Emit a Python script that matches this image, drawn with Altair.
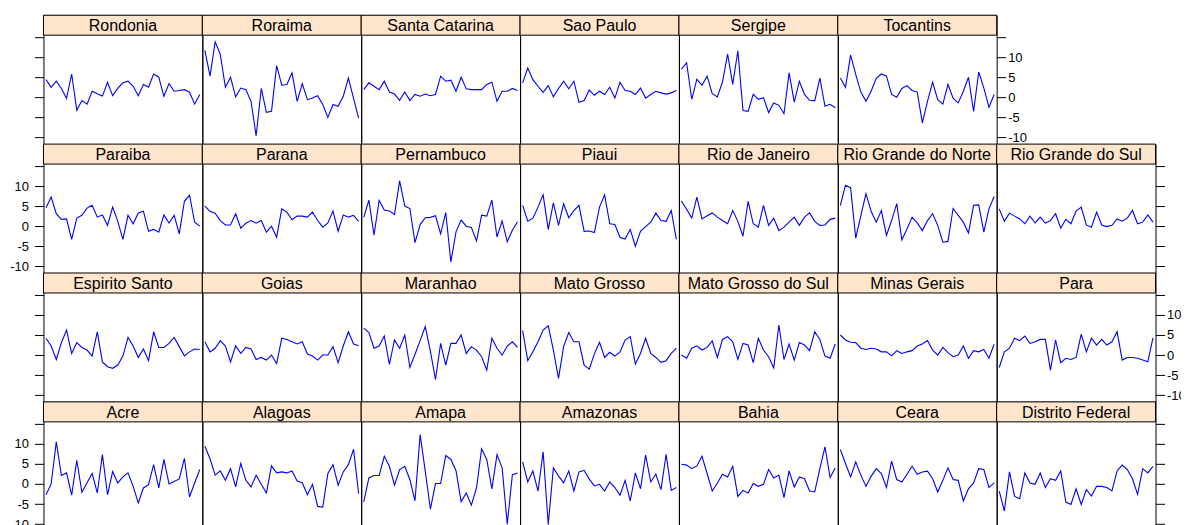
import altair as alt
import pandas as pd

# ---------------- data (31 observations per state) ----------------
N_OBS = 31
obs = list(range(N_OBS))

rondonia = [4.4, 2.5, 4.0, 2.2, -0.3, 5.8, -3.25, -0.8, -1.7, 1.5, 0.9, 0.3, 3.75, 0.4, 2.2, 3.6, 4.0, 2.75, 0.4, 3.2, 2.5, 5.8, 5.0, 0.25, 3.4, 1.5, 1.7, 1.9, 1.25, -1.7, 0.7]
roraima = [11.7, 5.25, 13.8, 10.7, 2.5, 5.0, 0.1, 2.3, 1.9, -1.0, -9.6, 2.2, -3.75, -3.5, 7.9, 3.0, 3.2, 6.1, -1.0, 3.4, -0.6, -0.2, 0.4, -1.8, -5.0, -1.8, -2.25, 0.25, 4.8, -0.2, -5.2]
santa_catarina = [1.9, 3.6, 2.75, 1.9, 4.0, 1.3, 0.8, -0.75, 1.3, -0.8, 0.7, 0.25, 0.8, 0.4, 0.7, 5.25, 4.0, 4.25, 1.5, 5.0, 2.1, 1.9, 1.9, 1.9, 3.2, 3.75, -1.0, 1.5, 1.5, 2.2, 1.7]
sao_paulo = [3.6, 7.3, 4.4, 2.75, 1.25, 2.9, 0.1, 2.2, 4.0, 2.1, 4.0, -1.25, -0.8, 1.8, 0.5, 1.5, 0.7, 2.5, -0.2, 3.75, 1.7, 1.5, 0.7, 2.3, -0.2, 0.7, 1.5, 1.1, 0.8, 1.1, 1.7]
sergipe = [7.0, 8.6, -0.5, 4.5, 3.0, 5.25, 0.9, 0.1, 3.8, 10.75, 3.2, 11.6, -3.3, -3.5, 0.75, -0.5, -0.1, -3.8, -1.4, -2.0, -4.1, 6.1, -1.2, 4.0, 0.7, -0.75, -0.9, 4.8, -2.25, -1.75, -2.6]
tocantins = [4.8, 2.5, 10.5, 5.7, 1.3, -1.0, 1.5, 4.7, 5.8, 5.25, 0.7, 0.0, 2.2, 2.9, 1.7, 1.3, -6.4, -1.0, 3.75, -0.6, -1.7, 3.2, -0.2, -1.4, 1.5, 5.0, -3.5, 6.3, 2.3, -2.5, 0.7]

paraiba = [4.6, 7.25, 3.1, 1.7, 1.8, -3.3, 2.0, 2.7, 4.5, 5.2, 2.25, 2.8, 0.2, 4.75, 1.2, -3.3, 2.7, 0.6, 3.3, 3.75, -1.3, -0.8, -1.5, 2.8, 0.8, 2.7, -1.9, 6.2, 7.7, 1.0, 0.0]
parana = [5.0, 3.7, 3.25, 1.4, 0.3, 0.3, 3.1, -0.5, 0.75, 1.4, 0.75, 1.4, -1.5, 0.0, -2.75, 4.3, 3.5, 1.6, 2.5, 2.5, 2.25, 3.5, 1.4, -0.25, 0.8, 3.75, -1.25, 2.8, 2.25, 2.7, 1.2]
pernambuco = [2.2, 6.5, -2.25, 6.4, 4.0, 3.8, 2.9, 11.3, 5.0, 4.4, -4.1, 0.4, 2.1, 2.2, 2.6, -1.9, 3.4, -8.9, -1.4, 1.5, 0.0, -0.3, -3.7, 2.75, 2.5, 6.5, -2.7, 1.3, -3.9, -1.0, 1.1]
piaui = [5.2, 1.25, 2.0, 4.75, 7.8, -0.8, 5.8, 0.2, 5.6, 2.1, 3.9, 5.2, -1.3, -1.2, -1.6, 4.75, 7.8, 0.6, 0.4, -2.75, -3.2, -0.8, -5.0, -1.3, -0.1, 1.0, 3.25, 1.4, 1.2, 3.9, -3.3]
rio_de_janeiro = [6.25, 4.2, 2.0, 7.25, 1.8, 2.6, 3.3, 2.25, 1.4, 0.6, 3.9, 1.2, -2.5, 6.2, 0.6, -0.25, 5.2, 0.2, 2.0, -1.1, -0.25, 1.0, 2.25, 0.2, 2.25, 3.3, 1.2, 0.2, 0.3, 1.7, 2.0]
rio_grande_do_norte = [5.2, 10.2, 9.6, -3.0, 2.6, 8.1, 3.7, 1.0, 3.9, -2.3, 1.4, 5.6, -3.4, -0.7, 2.25, 0.8, -1.1, 1.4, 3.1, 0.2, -4.0, -3.8, 4.4, 2.7, 1.0, -1.7, 5.2, 5.3, -1.5, 4.3, 7.4]
rio_grande_do_sul = [4.3, 1.2, 3.25, 2.5, 1.8, 0.6, 2.5, 0.8, 2.25, 0.75, 1.4, 3.1, -0.5, 1.7, 0.6, 3.75, 4.75, 0.3, -0.25, 3.5, 0.3, -0.1, 0.2, 1.8, 1.25, 2.0, 3.9, 0.6, 1.0, 2.8, 1.0]

espirito_santo = [4.2, 2.25, -1.1, 3.1, 6.25, 0.4, 3.1, 1.9, 1.25, -0.25, 5.8, -1.7, -2.9, -3.3, -2.5, -0.25, 4.4, 2.25, -0.6, 1.5, -1.4, 5.8, 1.9, 1.9, 2.9, 4.4, 2.1, -0.2, 0.8, 1.5, 1.4]
goias = [3.3, 0.8, 1.7, 3.6, 2.25, -1.7, 2.3, 0.4, 1.9, 1.5, -1.1, -0.6, -1.25, 0.0, -2.1, 4.2, 3.9, 3.3, 2.75, 3.3, 0.25, -0.25, -1.25, 0.0, 0.0, 2.1, -1.9, 2.25, 5.8, 2.75, 2.3]
maranhao = [6.7, 5.6, 1.7, 2.25, 4.75, -2.3, 3.75, 1.7, 5.0, -3.1, 0.2, 3.6, 7.1, 1.0, -6.1, 2.9, -2.5, 2.9, 2.9, 5.0, 0.4, 2.1, 1.25, -0.4, -3.75, 4.2, 1.7, 0.0, 2.25, 3.3, 1.9]
mato_grosso = [6.1, -1.4, 0.8, 3.3, 6.25, 7.3, 1.25, -5.8, 2.1, 5.6, 3.3, 3.3, -2.5, -3.5, 0.3, 3.2, -0.6, 0.7, -0.25, 0.8, 3.75, 4.6, -2.25, 0.4, 4.2, 0.4, -0.6, -1.8, -1.4, 0.4, 1.7]
mato_grosso_do_sul = [0.0, -0.8, 1.7, 2.3, 1.25, 1.9, 3.5, -0.6, 3.9, 4.6, 3.3, -1.1, 2.9, 2.5, -1.9, 4.2, 1.25, -0.4, -3.2, 7.5, -1.1, 2.75, -1.25, 3.1, 2.5, 1.1, 5.8, 3.9, -0.25, -0.8, 2.75]
minas_gerais = [5.0, 3.75, 3.2, 3.1, 1.7, 1.4, 1.7, 1.5, 0.8, 0.8, -0.2, 1.1, 0.4, 0.8, 1.1, 2.25, 2.75, 3.6, 1.25, 0.0, 1.9, 0.6, -0.4, 0.0, 2.25, -0.8, 1.1, 0.8, 1.4, -0.8, 2.7]
para = [-3.1, 0.8, 1.7, 4.2, 3.6, 4.75, 2.9, 3.3, 3.9, 3.9, -3.75, 3.75, -1.9, -0.8, -1.1, -0.6, 5.2, 0.8, 4.2, 2.5, 3.9, 2.5, 3.3, 5.8, -1.25, -0.6, -0.6, -0.8, -1.25, -1.7, 4.3]

acre = [-2.7, 0.0, 10.5, 2.1, 2.75, -2.8, 5.9, -2.1, 0.3, 2.6, -2.25, 7.3, -2.7, 3.1, 0.25, 1.75, 2.75, -0.6, -4.75, -1.0, -0.2, 4.8, -1.0, 6.1, 0.0, 0.6, 1.25, 6.4, -3.25, 0.25, 3.6]
alagoas = [9.4, 6.3, 2.2, 3.25, 0.9, 3.8, -0.75, 5.1, 0.9, -0.75, 2.2, -0.1, -2.25, 4.5, 2.75, 3.0, 2.75, 3.25, 0.75, 0.3, -2.7, -0.1, -5.6, -5.75, 2.6, 4.8, -0.3, 3.0, 4.8, 8.6, -2.4]
amapa = [-4.5, 1.5, 2.1, 2.1, 6.9, 4.4, -0.3, 3.6, 4.4, 1.1, -4.2, 12.3, 3.2, -6.25, 0.1, 0.1, 7.1, 6.1, 3.3, -4.4, -2.25, -5.3, -1.0, 8.75, 6.1, -1.25, 7.3, 4.0, -10.0, 2.3, 2.75]
amazonas = [5.5, 0.5, 3.25, -1.8, 8.0, -10.1, 4.0, 2.0, 0.25, 3.25, -1.75, 3.0, 3.4, 1.2, -0.5, -0.1, -1.75, 0.5, -0.9, -2.8, 0.9, -4.25, 2.75, -1.2, 7.2, 0.5, 2.4, -1.4, 7.4, -1.6, -0.9]
bahia = [4.9, 4.7, 3.8, 4.5, 6.9, 2.6, -1.75, 0.25, 2.4, 1.75, 4.4, -3.1, -1.6, -2.25, 0.1, -0.6, -0.1, 3.6, 1.5, 2.2, -3.4, 3.25, -0.75, 1.75, 1.3, -1.75, -2.0, 3.8, 9.25, 1.6, 4.0]
ceara = [8.6, 5.1, 1.75, 5.5, 2.2, -0.6, 1.9, 3.8, 2.6, -0.9, 5.7, 1.1, 0.5, 2.4, 4.4, 2.4, 3.0, 3.2, 1.3, -2.0, 0.9, 4.0, 1.1, 0.9, -4.25, -1.2, 0.25, 3.8, 3.6, -0.9, 0.25]
distrito_federal = [-1.8, -6.75, 3.0, -3.1, -3.7, 2.75, 0.25, -0.1, 2.75, -0.9, 1.3, 0.9, 3.25, -4.5, -5.1, -1.2, -5.1, -1.4, -3.0, -0.6, -0.6, -0.9, -1.75, 3.25, 4.7, 3.6, 1.3, -2.6, 3.8, 2.75, 4.4]

# panel rows, top to bottom (lattice fills from bottom-left)
row1 = [("Rondonia", rondonia), ("Roraima", roraima), ("Santa Catarina", santa_catarina),
        ("Sao Paulo", sao_paulo), ("Sergipe", sergipe), ("Tocantins", tocantins)]
row2 = [("Paraiba", paraiba), ("Parana", parana), ("Pernambuco", pernambuco), ("Piaui", piaui),
        ("Rio de Janeiro", rio_de_janeiro), ("Rio Grande do Norte", rio_grande_do_norte),
        ("Rio Grande do Sul", rio_grande_do_sul)]
row3 = [("Espirito Santo", espirito_santo), ("Goias", goias), ("Maranhao", maranhao),
        ("Mato Grosso", mato_grosso), ("Mato Grosso do Sul", mato_grosso_do_sul),
        ("Minas Gerais", minas_gerais), ("Para", para)]
row4 = [("Acre", acre), ("Alagoas", alagoas), ("Amapa", amapa), ("Amazonas", amazonas),
        ("Bahia", bahia), ("Ceara", ceara), ("Distrito Federal", distrito_federal)]

tick_values = [-10, -5, 0, 5, 10, 15]

# ---------------- layout / style ----------------
FONT = "Liberation Sans"
PANEL_W = 159
PANEL_H = 109
STRIP_H = 20
Y_MIN, Y_MAX = -11.67, 15.47
Y_TOP = Y_MAX + STRIP_H * (Y_MAX - Y_MIN) / PANEL_H
STRIP_FILL = "#ffe5cc"
LINE_COLOR = "#0000ff"


def y_axis(orient, labels):
    return alt.Axis(
        orient=orient, values=tick_values, labels=labels, domain=False, grid=False,
        ticks=True, tickSize=9, tickColor="black", tickWidth=1,
        labelExpr="datum.value == 15 ? '' : '' + datum.value",
        labelFont=FONT, labelFontSize=13, labelColor="black",
        labelPadding=6 if orient == "left" else 2,
        title=None,
    )


def panel(name, values, axis=None):
    df = pd.DataFrame({"obs": obs, "value": values})
    y_enc = alt.Y("value:Q", scale=alt.Scale(domain=[Y_MIN, Y_TOP], nice=False, zero=False),
                  axis=axis if axis is not None else None)
    line = alt.Chart(df).mark_line(color=LINE_COLOR, strokeWidth=1.1).encode(
        x=alt.X("obs:Q", scale=alt.Scale(domain=[-0.5, N_OBS - 0.5], nice=False, zero=False), axis=None),
        y=y_enc,
    )
    sdf = pd.DataFrame({"state": [name]})
    strip = alt.Chart(sdf).mark_rect(fill=STRIP_FILL, stroke="black", strokeWidth=1).encode(
        x=alt.value(0), x2=alt.value(PANEL_W), y=alt.value(0), y2=alt.value(STRIP_H)
    )
    label = alt.Chart(sdf).mark_text(font=FONT, fontSize=16, color="black",
                                     align="center", baseline="middle").encode(
        x=alt.value(PANEL_W / 2), y=alt.value(STRIP_H / 2 + 1), text="state:N"
    )
    return alt.layer(strip, line, label).properties(width=PANEL_W, height=PANEL_H + STRIP_H)


def empty_cell():
    df = pd.DataFrame({"obs": [0], "value": [0]})
    return alt.Chart(df).mark_point(opacity=0).encode(
        x=alt.X("obs:Q", axis=None), y=alt.Y("value:Q", axis=None)
    ).properties(width=PANEL_W, height=PANEL_H + STRIP_H,
                 view=alt.ViewBackground(strokeOpacity=0))


cells = []
# row 1: left ticks, right labelled axis on last panel (Tocantins)
for i, (n, v) in enumerate(row1):
    if i == 0:
        cells.append(panel(n, v, y_axis("left", False)))
    elif i == len(row1) - 1:
        cells.append(panel(n, v, y_axis("right", True)))
    else:
        cells.append(panel(n, v))
cells.append(empty_cell())
# row 2: left labelled, right ticks
for i, (n, v) in enumerate(row2):
    if i == 0:
        cells.append(panel(n, v, y_axis("left", True)))
    elif i == 6:
        cells.append(panel(n, v, y_axis("right", False)))
    else:
        cells.append(panel(n, v))
# row 3: left ticks, right labelled
for i, (n, v) in enumerate(row3):
    if i == 0:
        cells.append(panel(n, v, y_axis("left", False)))
    elif i == 6:
        cells.append(panel(n, v, y_axis("right", True)))
    else:
        cells.append(panel(n, v))
# row 4: left labelled, right ticks
for i, (n, v) in enumerate(row4):
    if i == 0:
        cells.append(panel(n, v, y_axis("left", True)))
    elif i == 6:
        cells.append(panel(n, v, y_axis("right", False)))
    else:
        cells.append(panel(n, v))

chart = alt.concat(*cells, columns=7, spacing=0, bounds="flush").properties(
    padding={"left": 0.5, "top": 6, "right": -5.5, "bottom": 0}
).configure_view(stroke="black", strokeWidth=1)

chart.save("out.html", embed_options={"renderer": "svg", "actions": False})
